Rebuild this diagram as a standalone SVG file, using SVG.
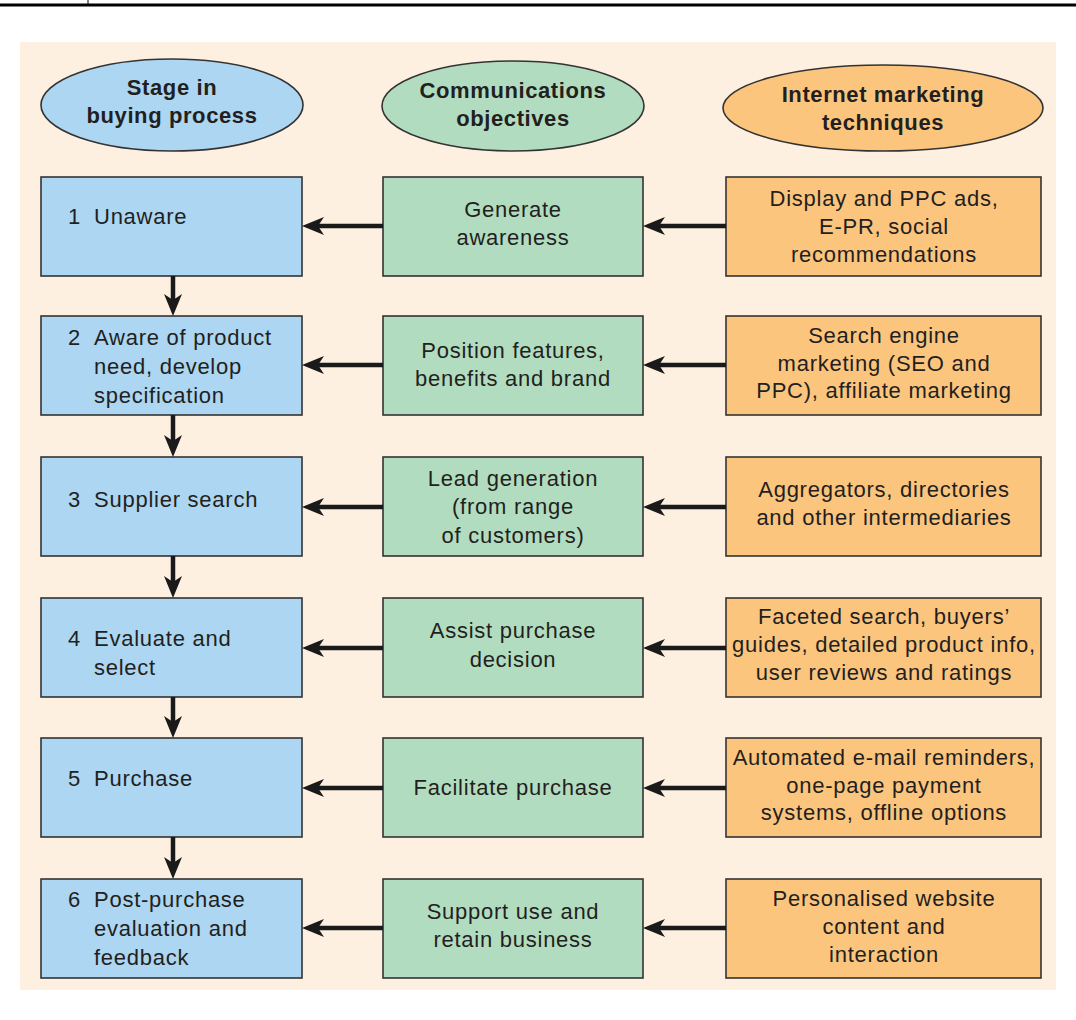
<svg xmlns="http://www.w3.org/2000/svg" width="1076" height="1020" viewBox="0 0 1076 1020">
<style>
.t{font-family:"Liberation Sans",Arial,sans-serif;font-size:22px;letter-spacing:0.75px;fill:#231f20}
.c{text-anchor:middle}
.b{font-weight:bold;letter-spacing:0.6px}
.box{stroke:#333;stroke-width:1.6}
.blue{fill:#acd6f1}
.green{fill:#b2dcbf}
.orange{fill:#fcc57e}
.arr{stroke:#1a1a1a;stroke-width:4.5;fill:none;marker-end:url(#ah)}
</style>
<defs>
<marker id="ah" viewBox="0 0 22 18" refX="12" refY="9" markerWidth="22" markerHeight="18" markerUnits="userSpaceOnUse" orient="auto">
<path d="M0,0 L22,9 L0,18 L6,9 Z" fill="#1a1a1a"/>
</marker>
</defs>
<rect x="0" y="0" width="1076" height="1020" fill="#ffffff"/>
<line x1="0" y1="5" x2="1076" y2="5" stroke="#000" stroke-width="3"/>
<line x1="88" y1="0" x2="88" y2="5" stroke="#000" stroke-width="1"/>
<rect x="20" y="42" width="1036" height="948" fill="#fdf0e1"/>

<g id="h1"><ellipse class="box blue" cx="172" cy="105" rx="131" ry="46"/>
<text class="t c b" x="172" y="95">Stage in</text><text class="t c b" x="172" y="123">buying process</text></g>
<g id="h2"><ellipse class="box green" cx="513" cy="106" rx="131" ry="45"/>
<text class="t c b" x="513" y="98">Communications</text><text class="t c b" x="513" y="126">objectives</text></g>
<g id="h3"><ellipse class="box orange" cx="883" cy="108" rx="160" ry="43"/>
<text class="t c b" x="883" y="102">Internet marketing</text><text class="t c b" x="883" y="130">techniques</text></g>

<g id="b1"><rect class="box blue" x="41" y="177" width="261" height="99"/>
<text class="t" x="68" y="224">1</text><text class="t" x="94" y="224">Unaware</text></g>
<g id="b2"><rect class="box blue" x="41" y="316" width="261" height="99"/>
<text class="t" x="68" y="345">2</text><text class="t" x="94" y="345">Aware of product</text><text class="t" x="94" y="374">need, develop</text><text class="t" x="94" y="403">specification</text></g>
<g id="b3"><rect class="box blue" x="41" y="457" width="261" height="99"/>
<text class="t" x="68" y="507">3</text><text class="t" x="94" y="507">Supplier search</text></g>
<g id="b4"><rect class="box blue" x="41" y="598" width="261" height="99"/>
<text class="t" x="68" y="646">4</text><text class="t" x="94" y="646">Evaluate and</text><text class="t" x="94" y="675">select</text></g>
<g id="b5"><rect class="box blue" x="41" y="738" width="261" height="99"/>
<text class="t" x="68" y="786">5</text><text class="t" x="94" y="786">Purchase</text></g>
<g id="b6"><rect class="box blue" x="41" y="879" width="261" height="99"/>
<text class="t" x="68" y="907">6</text><text class="t" x="94" y="907">Post-purchase</text><text class="t" x="94" y="936">evaluation and</text><text class="t" x="94" y="965">feedback</text></g>

<g id="g1"><rect class="box green" x="383" y="177" width="260" height="99"/>
<text class="t c" x="513" y="217">Generate</text><text class="t c" x="513" y="245">awareness</text></g>
<g id="g2"><rect class="box green" x="383" y="316" width="260" height="99"/>
<text class="t c" x="513" y="358">Position features,</text><text class="t c" x="513" y="386">benefits and brand</text></g>
<g id="g3"><rect class="box green" x="383" y="457" width="260" height="99"/>
<text class="t c" x="513" y="486">Lead generation</text><text class="t c" x="513" y="514">(from range</text><text class="t c" x="513" y="543">of customers)</text></g>
<g id="g4"><rect class="box green" x="383" y="598" width="260" height="99"/>
<text class="t c" x="513" y="638">Assist purchase</text><text class="t c" x="513" y="667">decision</text></g>
<g id="g5"><rect class="box green" x="383" y="738" width="260" height="99"/>
<text class="t c" x="513" y="795">Facilitate purchase</text></g>
<g id="g6"><rect class="box green" x="383" y="879" width="260" height="99"/>
<text class="t c" x="513" y="919">Support use and</text><text class="t c" x="513" y="947">retain business</text></g>

<g id="o1"><rect class="box orange" x="726" y="177" width="315" height="99"/>
<text class="t c" x="884" y="206">Display and PPC ads,</text><text class="t c" x="884" y="234">E-PR, social</text><text class="t c" x="884" y="262">recommendations</text></g>
<g id="o2"><rect class="box orange" x="726" y="316" width="315" height="99"/>
<text class="t c" x="884" y="343">Search engine</text><text class="t c" x="884" y="371">marketing (SEO and</text><text class="t c" x="884" y="398">PPC), affiliate marketing</text></g>
<g id="o3"><rect class="box orange" x="726" y="457" width="315" height="99"/>
<text class="t c" x="884" y="497">Aggregators, directories</text><text class="t c" x="884" y="525">and other intermediaries</text></g>
<g id="o4"><rect class="box orange" x="726" y="598" width="315" height="99"/>
<text class="t c" x="884" y="624">Faceted search, buyers’</text><text class="t c" x="884" y="652">guides, detailed product info,</text><text class="t c" x="884" y="680">user reviews and ratings</text></g>
<g id="o5"><rect class="box orange" x="726" y="738" width="315" height="99"/>
<text class="t c" x="884" y="765">Automated e-mail reminders,</text><text class="t c" x="884" y="793">one-page payment</text><text class="t c" x="884" y="820">systems, offline options</text></g>
<g id="o6"><rect class="box orange" x="726" y="879" width="315" height="99"/>
<text class="t c" x="884" y="906">Personalised website</text><text class="t c" x="884" y="934">content and</text><text class="t c" x="884" y="962">interaction</text></g>

<g id="connectors">
<line class="arr" x1="726" y1="226" x2="653" y2="226"/>
<line class="arr" x1="383" y1="226" x2="312" y2="226"/>
<line class="arr" x1="726" y1="365" x2="653" y2="365"/>
<line class="arr" x1="383" y1="365" x2="312" y2="365"/>
<line class="arr" x1="726" y1="507" x2="653" y2="507"/>
<line class="arr" x1="383" y1="507" x2="312" y2="507"/>
<line class="arr" x1="726" y1="648" x2="653" y2="648"/>
<line class="arr" x1="383" y1="648" x2="312" y2="648"/>
<line class="arr" x1="726" y1="788" x2="653" y2="788"/>
<line class="arr" x1="383" y1="788" x2="312" y2="788"/>
<line class="arr" x1="726" y1="928" x2="653" y2="928"/>
<line class="arr" x1="383" y1="928" x2="312" y2="928"/>
<line class="arr" x1="173" y1="276" x2="173" y2="306"/>
<line class="arr" x1="173" y1="415" x2="173" y2="447"/>
<line class="arr" x1="173" y1="556" x2="173" y2="588"/>
<line class="arr" x1="173" y1="697" x2="173" y2="728"/>
<line class="arr" x1="173" y1="837" x2="173" y2="869"/>
</g>
</svg>
